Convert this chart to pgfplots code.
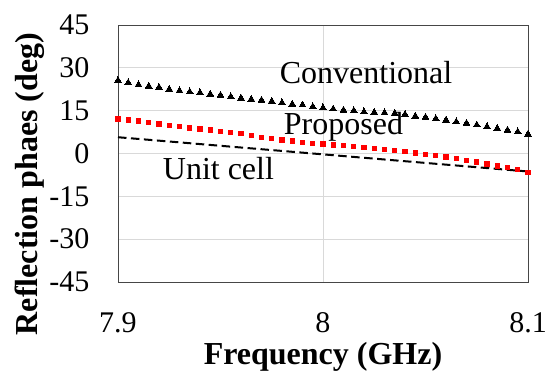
\documentclass[border=0pt]{standalone}
\usepackage{pgfplots}
\pgfplotsset{compat=1.18}
\usepackage{pgfplotstable}
\usepackage{fontspec}
\setmainfont{Liberation Serif}
\definecolor{gridc}{RGB}{217,217,217}
\definecolor{framec}{RGB}{70,70,70}
\pgfplotstableread{
x c p
7.900 25.6 12.1
7.905 24.8 11.7
7.910 24.1 11.4
7.915 23.6 10.9
7.920 23.2 10.3
7.925 22.5 9.9
7.930 22.0 9.4
7.935 21.6 8.9
7.940 21.3 8.6
7.945 20.8 8.2
7.950 20.4 7.8
7.955 19.9 7.4
7.960 19.4 6.9
7.965 19.0 6.4
7.970 18.7 5.7
7.975 18.3 5.2
7.980 17.8 4.7
7.985 17.3 4.4
7.990 17.0 3.8
7.995 16.4 3.6
8.000 16.0 3.3
8.005 15.6 3.0
8.010 15.2 2.7
8.015 15.0 2.4
8.020 14.6 2.0
8.025 14.4 1.8
8.030 14.3 1.5
8.035 14.1 1.1
8.040 13.7 0.6
8.045 13.1 0.2
8.050 12.7 -0.3
8.055 12.2 -0.8
8.060 11.7 -1.2
8.065 11.1 -1.8
8.070 10.6 -2.4
8.075 10.0 -3.0
8.080 9.4 -3.7
8.085 8.8 -4.4
8.090 8.2 -5.0
8.095 7.6 -5.7
8.100 6.8 -6.6
}\datatable
\begin{document}
\begin{tikzpicture}
\path[use as bounding box] (-118pt,-93pt) rectangle (431pt,282pt);
\begin{axis}[
  anchor=south west, at={(0pt,0pt)},
  width=410pt, height=257pt, scale only axis,
  xmin=7.9, xmax=8.1, ymin=-45, ymax=45,
  xtick={7.9,8,8.1}, xticklabels={7.9,8,8.1},
  ytick={-45,-30,-15,0,15,30,45},
  yticklabels={-45,-30,-15,0,15,30,45},
  major tick length=0pt,
  grid=major,
  major grid style={draw=gridc, line width=0.8pt},
  axis line style={draw=framec, line width=0.9pt},
  tick label style={font=\fontsize{30}{36}\selectfont},
  xticklabel style={yshift=-27pt},
  yticklabel style={xshift=-25pt},
  xlabel={\textbf{Frequency (GHz)}},
  ylabel={\textbf{Reflection phaes (deg)}},
  label style={font=\fontsize{32}{38}\selectfont},
  x label style={at={(axis description cs:0.5,-0.292)}, anchor=center},
  y label style={at={(axis description cs:-0.2146,0.381)}, anchor=center, rotate=0},
  clip=false,
]
\addplot[black, line width=2pt, dash pattern=on 8.5pt off 4.5pt] coordinates {
  (7.90,5.7) (7.95,2.7) (8.00,-0.3) (8.05,-3.3) (8.10,-6.3)};
\addplot[red, only marks, mark=square*, mark size=2.1pt, mark options={fill=red, draw=red, line width=0pt}] table[x=x, y=p] {\datatable};
\addplot[black, only marks, mark=triangle*, mark size=3.9pt, mark options={fill=black, draw=black, line width=0pt}] table[x=x, y=c] {\datatable};
\node[font=\fontsize{32}{38}\selectfont] at (axis cs:8.021,28.5) {Conventional};
\node[font=\fontsize{32}{38}\selectfont] at (axis cs:8.010,9.3) {Proposed};
\node[font=\fontsize{32}{38}\selectfont] at (axis cs:7.949,-5.1) {Unit cell};
\end{axis}
\end{tikzpicture}
\end{document}
